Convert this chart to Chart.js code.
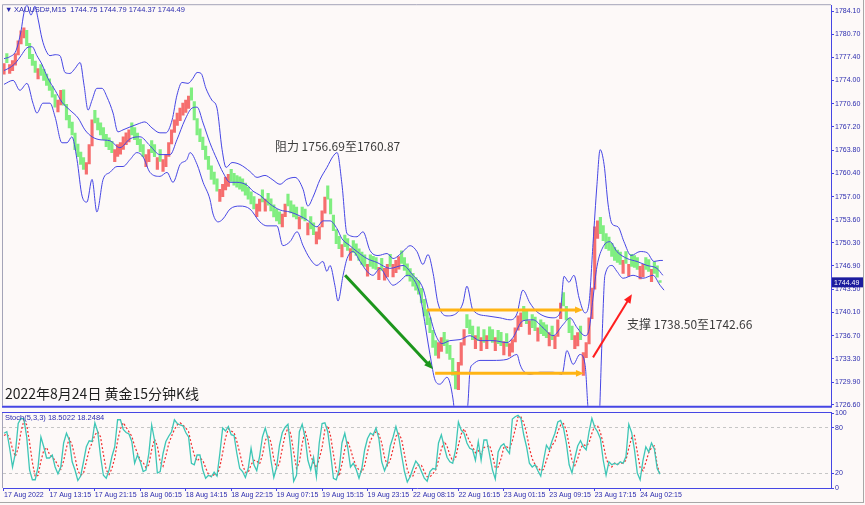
<!DOCTYPE html>
<html>
<head>
<meta charset="utf-8">
<script src="https://cdn.jsdelivr.net/npm/chart.js@4.4.1/dist/chart.umd.min.js"></script>
<style>
	html, body { margin: 0; padding: 0; background: #fdf9f8; }
	#wrap { position: relative; width: 865px; height: 505px; overflow: hidden; background: #fdf9f8; }
	#wrap canvas { position: absolute; left: 0; }
	#priceChart { top: 0; }
	#stochChart { top: 405px; }
	#frame { position: absolute; left: 0; top: 0; width: 863px; height: 502px; border-right: 1px solid #a8a8a8; border-bottom: 1px solid #a8a8a8; pointer-events: none; }
</style>
</head>
<body>
<div id="wrap">
	<canvas id="priceChart" width="865" height="411"></canvas>
	<canvas id="stochChart" width="865" height="100"></canvas>
	<div id="frame"></div>
</div>
<script>
// XAUUSD M15, one candle per half hour
const candleOpen = [
	1774.90,1777.90,1775.00,1775.40,1776.20,1777.70,1779.30,1780.20,1781.30,1779.40,
	1777.80,1776.80,1774.20,1776.30,1775.60,1774.90,1774.20,1773.10,1771.90,1769.40,
	1770.40,1772.60,1770.50,1768.90,1767.90,1766.30,1764.70,1763.50,1762.70,1760.30,
	1761.80,1764.40,1769.60,1768.50,1767.80,1767.10,1766.10,1765.60,1765.10,1762.10,
	1762.90,1763.20,1763.90,1764.60,1765.00,1767.80,1767.10,1766.30,1765.40,1764.60,
	1761.40,1762.10,1765.20,1764.60,1761.00,1763.90,1760.70,1761.40,1762.90,1764.70,
	1766.40,1767.40,1768.10,1768.90,1769.30,1769.90,1772.90,1770.90,1768.40,1766.90,
	1765.70,1764.40,1762.90,1761.50,1760.60,1759.60,1756.30,1757.00,1758.00,1758.50,
	1761.00,1760.40,1760.10,1759.90,1759.60,1759.00,1758.40,1757.70,1757.00,1754.10,
	1754.90,1758.00,1754.90,1757.50,1756.70,1755.80,1755.20,1754.80,1752.60,1754.10,
	1757.40,1756.40,1755.80,1755.50,1752.30,1755.50,1755.20,1751.40,1754.10,1753.20,
	1750.10,1750.80,1752.60,1754.60,1758.60,1756.70,1754.30,1752.20,1751.20,1748.20,
	1751.40,1750.90,1747.70,1750.60,1750.10,1749.40,1748.90,1748.50,1745.40,1748.50,
	1748.30,1748.10,1744.90,1748.00,1744.80,1745.30,1748.60,1745.30,1745.90,1746.40,
	1749.10,1748.10,1747.20,1746.50,1745.80,1745.20,1744.70,1743.60,1742.00,1740.50,
	1739.30,1737.50,1736.00,1733.40,1734.40,1737.20,1736.10,1735.30,1733.40,1731.50,
	1728.80,1732.40,1735.30,1739.80,1739.00,1738.10,1734.80,1738.00,1734.50,1737.60,
	1734.80,1738.00,1737.60,1734.50,1737.50,1737.20,1733.90,1737.00,1733.70,1734.30,
	1735.80,1737.50,1738.00,1741.00,1740.40,1736.90,1739.80,1739.40,1735.90,1739.00,
	1738.60,1738.30,1735.20,1738.10,1734.80,1736.60,1739.20,1743.00,1741.00,1739.20,
	1738.10,1734.80,1735.20,1738.10,1730.90,1733.50,1735.50,1739.20,1743.50,1750.90,
	1754.00,1752.80,1751.60,1751.10,1750.20,1749.60,1749.20,1748.90,1745.80,1749.00,
	1745.40,1748.60,1748.40,1748.10,1745.00,1745.30,1748.10,1747.80,1744.60,1747.50,
	1746.90,1744.75
];
const candleClose = [
	1776.45,1776.59,1776.30,1776.88,1777.89,1779.77,1781.21,1781.65,1779.05,1777.17,
	1776.16,1775.15,1775.72,1774.71,1773.99,1773.27,1772.54,1771.53,1770.09,1771.10,
	1772.54,1770.38,1768.21,1767.05,1766.04,1763.87,1762.86,1761.71,1760.98,1762.00,
	1764.60,1768.21,1767.78,1766.76,1766.04,1765.32,1764.31,1763.87,1763.44,1763.87,
	1764.60,1764.89,1765.75,1766.33,1766.76,1766.04,1765.32,1764.60,1763.59,1762.86,
	1763.15,1763.87,1763.44,1762.86,1762.72,1762.14,1762.43,1763.15,1764.89,1766.76,
	1768.21,1769.22,1769.94,1770.67,1771.10,1771.68,1771.10,1768.21,1766.04,1765.03,
	1763.87,1762.43,1760.98,1759.54,1758.82,1757.81,1758.09,1758.82,1759.83,1760.26,
	1759.25,1758.67,1758.38,1758.09,1757.81,1757.23,1756.65,1755.93,1755.20,1755.93,
	1756.65,1756.22,1756.65,1755.78,1754.92,1754.05,1753.47,1753.04,1754.48,1755.93,
	1755.64,1754.63,1754.05,1753.76,1754.05,1753.76,1753.47,1753.18,1752.31,1751.45,
	1751.88,1752.60,1754.92,1756.94,1756.65,1754.48,1752.03,1750.15,1749.42,1750.00,
	1749.71,1749.14,1749.42,1748.85,1748.41,1747.69,1747.11,1746.82,1747.11,1746.82,
	1746.53,1746.39,1746.68,1746.25,1746.53,1747.11,1746.82,1747.11,1747.69,1748.27,
	1747.26,1746.25,1745.38,1744.66,1743.93,1743.36,1742.78,1741.48,1739.60,1738.30,
	1737.14,1734.97,1733.82,1735.70,1736.42,1735.26,1734.11,1733.24,1730.93,1728.91,
	1732.81,1735.70,1737.58,1737.86,1737.00,1736.13,1736.71,1735.99,1736.42,1735.70,
	1736.71,1736.13,1735.70,1736.42,1735.55,1735.26,1735.84,1735.12,1735.55,1736.13,
	1737.86,1739.60,1740.03,1739.02,1738.44,1738.87,1737.86,1737.43,1737.86,1737.00,
	1736.71,1736.42,1737.14,1736.13,1736.71,1739.02,1741.48,1741.04,1739.02,1737.14,
	1736.13,1736.71,1737.14,1736.13,1734.25,1735.70,1739.31,1743.64,1752.60,1753.47,
	1751.59,1750.58,1749.42,1749.14,1748.27,1747.69,1747.40,1747.11,1747.69,1747.26,
	1747.11,1746.82,1746.68,1746.39,1746.82,1747.11,1746.39,1746.10,1746.39,1745.81,
	1745.23,1744.49
];

// bollinger bands, [candle index, price]
const upperBand = [[0,1777.16],[2.1,1777.45],[4.2,1778.32],[6.0,1781.21],[7.0,1783.81],[8.1,1784.97],[9.5,1783.52],[10.9,1784.82],[12.0,1782.94],[13.4,1780.05],[14.8,1778.32],[16.2,1777.60],[18.0,1777.74],[19.7,1777.60],[21.5,1775.14],[23.2,1775.00],[25.0,1775.72],[26.8,1776.59],[28.2,1773.26],[29.6,1769.65],[31.0,1771.10],[32.7,1772.83],[34.5,1772.83],[36.3,1771.53],[38.4,1769.22],[40.1,1766.47],[41.9,1766.76],[44.4,1767.19],[47.2,1767.63],[49.6,1767.92],[52.1,1767.05],[54.9,1766.33],[57.0,1766.33],[59.2,1768.21],[60.9,1771.82],[62.7,1773.69],[64.8,1773.55],[66.5,1774.27],[68.0,1775.14],[69.4,1775.00],[71.1,1772.83],[73.2,1771.10],[75.0,1769.94],[76.8,1763.87],[78.2,1761.27],[80.3,1761.99],[83.1,1761.70],[86.6,1760.69],[89.1,1759.82],[91.9,1760.11],[94.4,1759.53],[97.2,1758.81],[99.6,1759.53],[102.5,1759.82],[105.3,1758.09],[107.0,1755.63],[108.8,1756.94],[111.3,1759.53],[113.7,1761.27],[115.8,1762.86],[117.3,1763.44],[119.0,1758.81],[120.8,1751.59],[124.3,1751.15],[126.4,1751.88],[128.9,1749.13],[131.7,1748.41],[134.9,1748.70],[137.0,1747.97],[140.5,1748.99],[143.0,1749.85],[145.4,1748.99],[147.5,1747.11],[149.3,1748.55],[151.1,1745.81],[152.8,1741.47],[156.0,1739.59],[159.5,1740.03],[161.6,1741.47],[163.0,1743.93],[165.1,1740.46],[170.1,1739.59],[174.6,1739.31],[178.2,1739.02],[180.6,1739.88],[182.7,1743.35],[185.2,1741.47],[187.7,1740.17],[193.3,1739.31],[195.8,1740.03],[197.2,1745.37],[198.9,1744.51],[200.7,1745.52],[202.5,1742.19],[204.6,1740.03],[206.0,1741.47],[207.4,1750.14],[208.8,1758.81],[209.9,1763.87],[211.3,1761.70],[212.7,1755.92],[214.1,1753.03],[216.2,1752.60],[218.3,1750.43],[220.8,1748.41],[224.0,1748.99],[226.4,1748.84],[228.9,1747.54],[231.0,1747.69],[232.0,1747.69]];
const middleBand = [[0,1775.43],[2.1,1775.86],[4.2,1776.59],[6.0,1777.60],[8.1,1778.75],[9.9,1778.90],[11.6,1777.60],[13.4,1776.30],[15.5,1774.27],[18.0,1772.54],[20.4,1770.81],[23.2,1769.65],[26.1,1768.49],[28.5,1766.76],[31.0,1765.75],[33.8,1765.32],[37.3,1765.17],[40.8,1764.16],[44.4,1765.46],[47.9,1765.75],[51.4,1764.45],[54.9,1763.15],[58.5,1763.15],[60.9,1765.32],[63.7,1768.21],[66.2,1769.94],[68.0,1770.08],[70.1,1767.77],[72.5,1764.88],[75.0,1762.43],[77.1,1760.55],[79.6,1759.10],[82.0,1759.10],[85.6,1758.67],[87.7,1757.80],[90.1,1757.22],[93.7,1755.92],[97.2,1755.06],[100.7,1754.77],[104.2,1754.19],[106.7,1753.61],[110.2,1752.60],[112.3,1753.47],[114.8,1753.47],[117.3,1752.31],[119.0,1750.86],[121.8,1749.85],[124.3,1748.99],[127.8,1747.97],[131.3,1747.40],[135.9,1746.53],[140.5,1746.96],[144.0,1745.52],[147.5,1743.64],[150.0,1739.59],[152.1,1736.70],[154.2,1735.55],[157.0,1735.98],[160.6,1736.13],[164.1,1736.70],[167.6,1735.98],[172.2,1735.98],[177.1,1735.69],[179.2,1736.42],[182.7,1738.87],[186.3,1739.02],[189.8,1737.86],[193.3,1736.70],[196.8,1738.29],[199.3,1739.31],[201.8,1737.86],[204.6,1736.70],[206.0,1737.57],[207.4,1742.19],[208.8,1746.82],[211.0,1749.71],[213.4,1750.43],[215.8,1748.99],[219.4,1747.97],[222.9,1747.54],[226.4,1746.96],[229.9,1746.53],[232.0,1745.52]];
const lowerBand = [[0,1773.41],[3.2,1773.99],[5.6,1772.54],[8.1,1773.55],[10.2,1770.66],[11.6,1769.22],[13.7,1770.66],[16.2,1770.66],[18.0,1768.64],[20.4,1764.88],[22.2,1764.88],[23.9,1765.75],[25.7,1762.43],[27.5,1757.08],[29.2,1756.21],[31.0,1759.53],[32.7,1754.77],[34.9,1759.53],[37.3,1760.55],[39.8,1761.41],[41.9,1761.41],[44.4,1762.43],[46.8,1763.44],[48.9,1762.86],[51.4,1760.55],[54.9,1759.97],[57.4,1760.55],[59.5,1759.10],[62.0,1761.70],[64.4,1762.43],[65.5,1763.44],[68.0,1761.70],[70.1,1759.10],[72.5,1756.65],[73.6,1754.48],[75.4,1753.32],[77.1,1753.75],[79.6,1755.20],[83.1,1755.63],[86.6,1755.20],[90.1,1753.32],[92.6,1752.74],[96.1,1752.74],[98.2,1749.85],[100.7,1750.43],[103.2,1751.88],[105.3,1749.85],[107.7,1747.97],[110.2,1746.96],[112.3,1747.54],[113.7,1746.10],[114.8,1746.96],[116.5,1744.07],[117.6,1741.76],[119.4,1745.52],[120.8,1747.97],[122.9,1748.99],[125.4,1747.54],[127.8,1746.10],[129.9,1745.52],[132.4,1746.53],[134.9,1745.09],[137.0,1744.07],[139.4,1744.65],[141.9,1745.52],[144.0,1745.09],[146.5,1742.63],[147.5,1740.32],[150.0,1733.96],[151.8,1730.20],[153.5,1729.62],[156.0,1730.63],[158.1,1727.46],[159.5,1721.97],[160.9,1720.52],[162.3,1721.97],[163.4,1727.02],[164.1,1731.65],[165.1,1732.51],[167.6,1733.09],[172.2,1733.09],[177.1,1733.24],[180.6,1733.96],[181.7,1732.51],[182.7,1731.65],[185.2,1731.07],[188.7,1731.36],[193.3,1731.36],[196.5,1731.07],[198.2,1734.53],[200.4,1732.51],[202.8,1733.96],[204.6,1732.51],[205.6,1726.30],[206.7,1720.52],[208.1,1719.07],[209.5,1723.41],[210.6,1736.41],[211.6,1745.52],[214.1,1746.96],[215.8,1746.10],[218.0,1745.09],[221.5,1745.52],[225.0,1745.09],[228.5,1745.52],[231.0,1744.07],[232.4,1743.35]];

// stochastic (5,3,3), one value per candle
const stochMain = [
	73,75,53,28,46,86,93,92,68,24, 11,11,28,68,55,40,40,44,28,19,
	28,60,73,64,35,24,10,16,35,55, 63,62,87,75,42,17,13,24,42,55,
	91,91,78,74,72,62,33,44,35,22, 24,46,84,64,20,22,46,62,69,75,
	91,86,84,83,74,68,33,31,44,44, 24,13,17,15,21,16,46,80,76,82,
	71,70,46,26,22,14,26,53,31,23, 42,68,80,66,37,14,28,57,74,81,
	85,51,9,17,75,85,68,37,24,41, 15,60,86,87,75,46,13,11,24,60,
	73,55,28,33,25,13,26,51,66,73, 71,80,66,35,23,33,56,68,82,68,
	44,22,8,15,26,36,31,22,13,9, 22,26,25,60,71,55,41,35,33,51,
	88,77,73,60,53,51,37,62,37,64, 64,44,24,12,48,56,59,51,46,92,
	95,97,93,71,55,33,28,31,23,16, 37,57,51,63,73,88,90,80,60,31,
	20,40,56,63,55,51,75,93,81,75, 66,37,17,35,31,33,31,35,33,42,
	85,74,51,20,11,37,55,48,60,52, 26,18.5
];
const stochSignal = [
	70,72,67,52,42,53,75,90,84,61, 34,15,17,36,50,54,45,41,37,30,
	25,36,54,66,57,41,23,17,20,35, 51,60,71,75,68,45,24,18,26,40,
	63,79,87,81,75,69,56,46,37,34, 27,31,51,65,56,35,29,43,59,69,
	78,84,87,84,80,75,58,44,36,40, 37,27,18,15,18,17,28,47,67,79,
	76,74,62,47,31,21,21,31,37,36, 32,44,63,71,61,39,26,33,53,71,
	80,72,48,26,34,59,76,63,43,34, 27,39,54,78,83,69,45,23,16,32,
	52,63,52,39,29,24,21,30,48,63, 70,75,72,60,41,30,37,52,69,73,
	65,45,25,15,16,26,31,30,22,15, 15,19,24,37,52,62,56,44,36,40,
	57,72,79,70,62,55,47,50,45,54, 55,57,44,27,28,39,54,55,52,63,
	78,95,95,87,73,53,39,31,27,23, 25,37,48,57,62,75,84,86,77,57,
	37,30,39,53,58,56,60,73,83,83, 74,59,40,30,28,33,32,33,33,37,
	53,67,70,48,27,23,34,47,54,56, 30,18.25
];
const stochReadout = [18.5022, 18.2484];

const priceTicks = [1784.10,1780.70,1777.40,1774.00,1770.60,1767.20,1763.80,1760.40,1757.00,1753.60,1750.30,1746.90,1743.50,1740.10,1736.70,1733.30,1729.90,1726.60];
const stochTicks = [0, 20, 80, 100];
const stochLevels = [20, 80];
const timeTicks = [0,16,32,48,64,80,96,112,128,144,160,176,192,208,224];
const timeLabels = ['17 Aug 2022','17 Aug 13:15','17 Aug 21:15','18 Aug 06:15','18 Aug 14:15','18 Aug 22:15','19 Aug 07:15','19 Aug 15:15','19 Aug 23:15','22 Aug 08:15','22 Aug 16:15','23 Aug 01:15','23 Aug 09:15','23 Aug 17:15','24 Aug 02:15'];
const lastQuote = [1744.75, 1744.79, 1744.37, 1744.49];

// drawn-on annotations: [candle index, price]
const greenArrow = [[120.1, 1745.52], [151.1, 1731.79]];
const redArrow = [[207.4, 1733.53], [221.1, 1742.77]];
const rangeTop = [[148.9, 1740.46], [203.9, 1740.46]];
const rangeBottom = [[151.8, 1731.21], [204.2, 1731.21]];
const resistNote = { text: '阻力 1756.69至1760.87', at: [95.4, 1764.3] };
const supportNote = { text: '支撑 1738.50至1742.66', at: [219.4, 1738.3] };
const chartTitle = '2022年8月24日 黄金15分钟K线';

const BLUE = '#4646e4';
const LABEL = '#2c2cae';
const X_MIN = -0.35, X_MAX = 291.2;

Chart.defaults.font.family = '"Liberation Sans", Arial, sans-serif';
Chart.defaults.animation = false;

function drawArrow(ctx, xs, ys, pts, color, width, head) {
	const x1 = xs.getPixelForValue(pts[0][0]), y1 = ys.getPixelForValue(pts[0][1]);
	const x2 = xs.getPixelForValue(pts[1][0]), y2 = ys.getPixelForValue(pts[1][1]);
	const a = Math.atan2(y2 - y1, x2 - x1);
	const c = Math.cos(a), s = Math.sin(a);
	ctx.strokeStyle = color;
	ctx.fillStyle = color;
	ctx.lineWidth = width;
	ctx.lineCap = 'butt';
	ctx.beginPath();
	ctx.moveTo(x1, y1);
	ctx.lineTo(x2 - c * head * 0.7, y2 - s * head * 0.7);
	ctx.stroke();
	ctx.beginPath();
	ctx.moveTo(x2, y2);
	ctx.lineTo(x2 - head * c + head * 0.42 * s, y2 - head * s - head * 0.42 * c);
	ctx.lineTo(x2 - head * c - head * 0.42 * s, y2 - head * s + head * 0.42 * c);
	ctx.closePath();
	ctx.fill();
}

const priceOverlay = {
	id: 'priceOverlay',
	afterDatasetsDraw(chart) {
		const { ctx, scales } = chart;
		const xs = scales.x, ys = scales.y;
		ctx.save();
		drawArrow(ctx, xs, ys, rangeTop, '#ffb414', 3, 8);
		drawArrow(ctx, xs, ys, rangeBottom, '#ffb414', 3, 8);
		drawArrow(ctx, xs, ys, greenArrow, '#1c961c', 3, 9);
		drawArrow(ctx, xs, ys, redArrow, '#ff1e1e', 2, 9);

		ctx.font = '12px "Noto Sans CJK SC", sans-serif';
		ctx.fillStyle = '#3c3c3c';
		ctx.textBaseline = 'middle';
		ctx.textAlign = 'left';
		ctx.fillText(resistNote.text, xs.getPixelForValue(resistNote.at[0]), ys.getPixelForValue(resistNote.at[1]));
		ctx.fillText(supportNote.text, xs.getPixelForValue(supportNote.at[0]), ys.getPixelForValue(supportNote.at[1]));
		ctx.restore();
	},
	afterDraw(chart) {
		const { ctx, chartArea, scales } = chart;
		ctx.save();
		// frame
		ctx.lineWidth = 1;
		ctx.strokeStyle = '#a4a4b8';
		ctx.beginPath();
		ctx.moveTo(chartArea.left - 0.5, chartArea.top - 0.5);
		ctx.lineTo(chartArea.right, chartArea.top - 0.5);
		ctx.moveTo(chartArea.left - 0.5, chartArea.top - 0.5);
		ctx.lineTo(chartArea.left - 0.5, chartArea.bottom);
		ctx.stroke();
		ctx.strokeStyle = BLUE;
		ctx.lineWidth = 2;
		ctx.beginPath();
		ctx.moveTo(chartArea.left - 1, chartArea.bottom + 1);
		ctx.lineTo(chartArea.right + 1, chartArea.bottom + 1);
		ctx.stroke();

		// title
		ctx.font = '14px "Noto Sans CJK SC", sans-serif';
		ctx.fillStyle = '#1e1e1e';
		ctx.textBaseline = 'middle';
		ctx.fillText(chartTitle, chartArea.left + 2, chartArea.bottom - 12);

		// header line
		ctx.font = '7.5px "Liberation Sans", Arial, sans-serif';
		ctx.fillStyle = LABEL;
		ctx.fillText('▼', chartArea.left + 2, chartArea.top + 5);
		ctx.fillText('XAUUSD#,M15  ' + lastQuote.map(v => v.toFixed(2)).join(' '), chartArea.left + 11, chartArea.top + 5);

		// last price box on the axis
		const py = scales.y.getPixelForValue(lastQuote[3]);
		ctx.fillStyle = '#1c1c9e';
		ctx.fillRect(chartArea.right + 1, py - 5, 31, 10);
		ctx.fillStyle = '#ffffff';
		ctx.font = '7px "Liberation Sans", Arial, sans-serif';
		ctx.fillText(lastQuote[3].toFixed(2), chartArea.right + 3, py + 0.5);
		ctx.restore();
	}
};

const stochOverlay = {
	id: 'stochOverlay',
	afterDraw(chart) {
		const { ctx, chartArea } = chart;
		ctx.save();
		ctx.lineWidth = 1;
		ctx.strokeStyle = BLUE;
		ctx.beginPath();
		ctx.moveTo(chartArea.left - 1, chartArea.top - 0.5);
		ctx.lineTo(chartArea.right + 1, chartArea.top - 0.5);
		ctx.stroke();
		ctx.strokeStyle = '#a4a4b8';
		ctx.beginPath();
		ctx.moveTo(chartArea.left - 0.5, chartArea.top);
		ctx.lineTo(chartArea.left - 0.5, chartArea.bottom);
		ctx.stroke();
		ctx.font = '7.5px "Liberation Sans", Arial, sans-serif';
		ctx.fillStyle = LABEL;
		ctx.textBaseline = 'middle';
		ctx.fillText('Stoch(5,3,3) ' + stochReadout.map(v => v.toFixed(4)).join(' '), chartArea.left + 2, chartArea.top + 5);
		ctx.restore();
	}
};

function fixWidth(scale) { scale.width = 34; }

const priceCtx = document.getElementById('priceChart').getContext('2d');
const priceChart = new Chart(priceCtx, {
	type: 'bar',
	data: {
		datasets: [
			{
				type: 'line',
				data: upperBand.map(p => ({ x: p[0], y: p[1] })),
				borderColor: BLUE, borderWidth: 1, pointRadius: 0,
				cubicInterpolationMode: 'monotone', order: 0
			},
			{
				type: 'line',
				data: middleBand.map(p => ({ x: p[0], y: p[1] })),
				borderColor: BLUE, borderWidth: 1, pointRadius: 0,
				cubicInterpolationMode: 'monotone', order: 0
			},
			{
				type: 'line',
				data: lowerBand.map(p => ({ x: p[0], y: p[1] })),
				borderColor: BLUE, borderWidth: 1, pointRadius: 0,
				cubicInterpolationMode: 'monotone', order: 0
			},
			{
				type: 'bar',
				data: candleClose.map((c, i) => ({ x: i, y: [candleOpen[i], c] })),
				backgroundColor: ctx => candleClose[ctx.dataIndex] >= candleOpen[ctx.dataIndex] ? '#f66e6e' : '#80ee80',
				borderWidth: 0,
				barThickness: 2.5,
				order: 1
			}
		]
	},
	options: {
		responsive: false,
		animation: false,
		layout: { padding: { top: 4, left: 3, bottom: 2, right: 0 } },
		plugins: { legend: { display: false }, tooltip: { enabled: false } },
		scales: {
			x: {
				type: 'linear', min: X_MIN, max: X_MAX, offset: false,
				display: false,
				grid: { offset: false }
			},
			y: {
				position: 'right',
				min: 1726.46, max: 1784.97,
				afterBuildTicks: scale => { scale.ticks = priceTicks.map(v => ({ value: v })); },
				afterFit: fixWidth,
				grid: { drawOnChartArea: false, drawTicks: true, tickLength: 3, tickColor: BLUE },
				border: { display: true, color: BLUE, width: 1 },
				ticks: {
					autoSkip: false, padding: 1, color: LABEL,
					font: { size: 7 },
					callback: v => Number(v).toFixed(2)
				}
			}
		}
	},
	plugins: [priceOverlay]
});

const stochCtx = document.getElementById('stochChart').getContext('2d');
const stochChart = new Chart(stochCtx, {
	type: 'line',
	data: {
		datasets: [
			{
				data: stochMain.map((v, i) => ({ x: i, y: v })),
				borderColor: '#3ec6b6', borderWidth: 1.3, pointRadius: 0, tension: 0
			},
			{
				data: stochSignal.map((v, i) => ({ x: i, y: v })),
				borderColor: '#f03030', borderWidth: 1.2, borderDash: [2, 2], pointRadius: 0, tension: 0
			}
		]
	},
	options: {
		responsive: false,
		animation: false,
		layout: { padding: { top: 8, left: 3, bottom: 0, right: 0 } },
		plugins: { legend: { display: false }, tooltip: { enabled: false } },
		scales: {
			x: {
				type: 'linear', min: X_MIN, max: X_MAX,
				afterBuildTicks: scale => { scale.ticks = timeTicks.map(v => ({ value: v })); },
				afterFit: scale => { scale.height = 17; },
				grid: { drawOnChartArea: false, drawTicks: true, tickLength: 3, tickColor: BLUE },
				border: { display: true, color: BLUE, width: 1 },
				ticks: {
					autoSkip: false, maxRotation: 0, align: 'start', padding: 0,
					color: LABEL, font: { size: 7 },
					callback: (v, i) => timeLabels[i]
				}
			},
			y: {
				position: 'right',
				min: 0, max: 100,
				afterBuildTicks: scale => { scale.ticks = stochTicks.map(v => ({ value: v })); },
				afterFit: fixWidth,
				grid: {
					drawOnChartArea: true, drawTicks: true, tickLength: 3, tickColor: BLUE,
					color: c => stochLevels.includes(c.tick && c.tick.value) ? '#c6c6c6' : 'rgba(0,0,0,0)'
				},
				border: { display: true, color: BLUE, width: 1, dash: [3, 3] },
				ticks: { autoSkip: false, padding: 1, color: LABEL, font: { size: 7 } }
			}
		}
	},
	plugins: [stochOverlay]
});
</script>
</body>
</html>
